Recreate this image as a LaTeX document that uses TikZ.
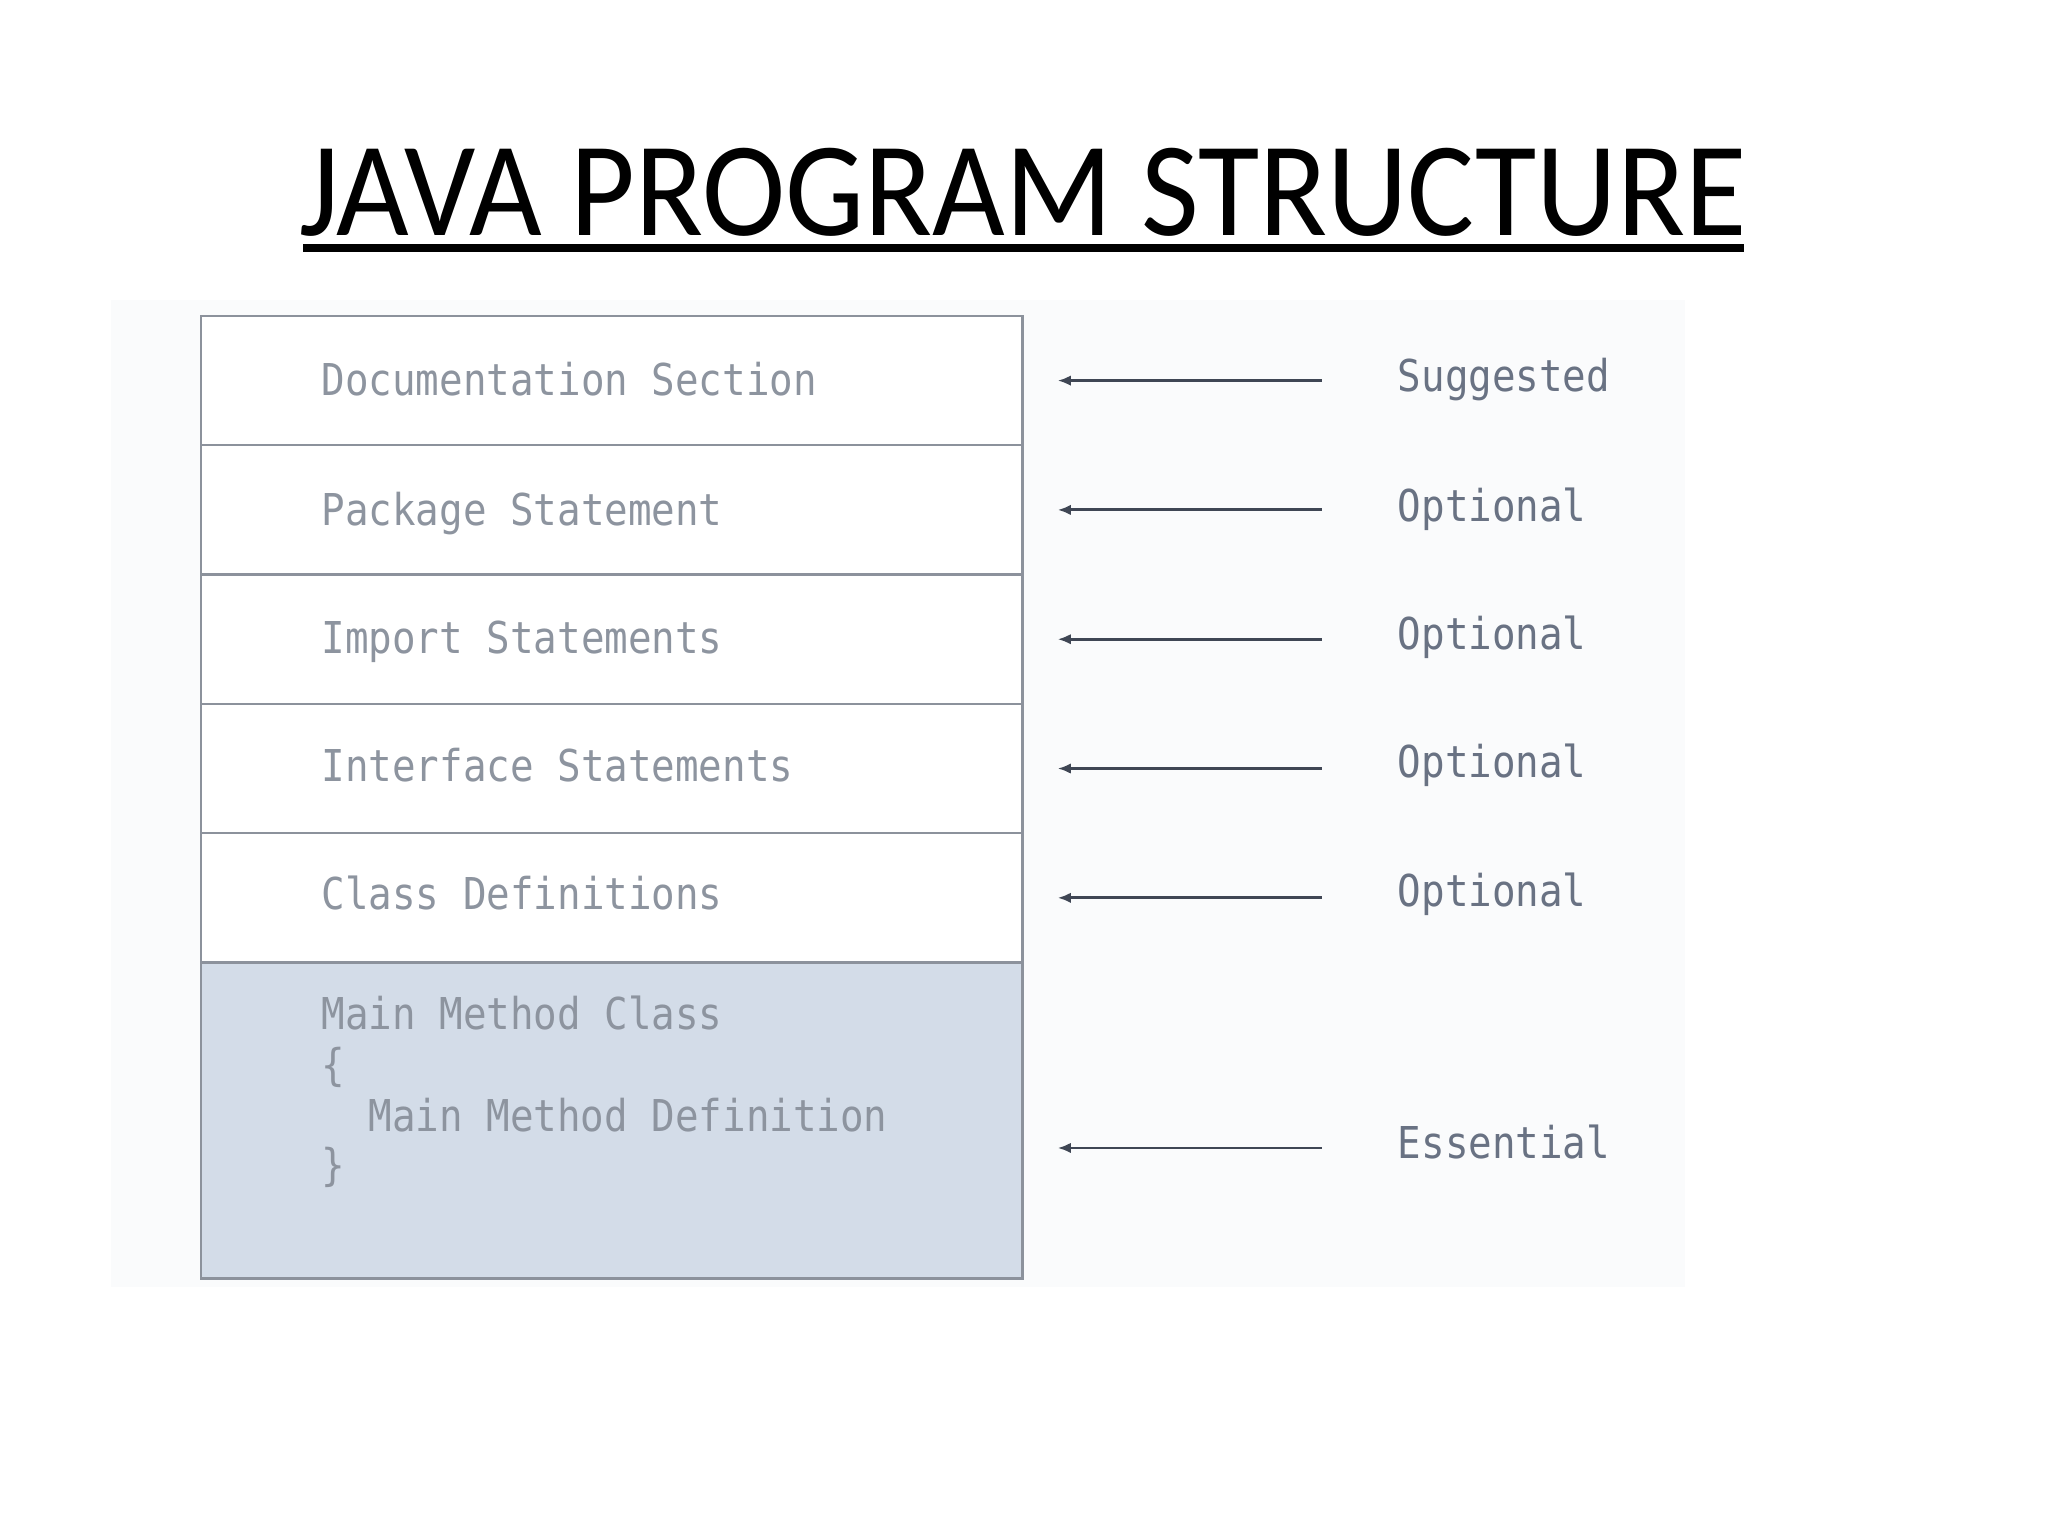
\documentclass[tikz,border=0pt]{standalone}
\usepackage{fontspec}
\setmainfont{Carlito}
\newfontfamily\monof{DejaVu Sans Mono}
\usetikzlibrary{arrows.meta}
\definecolor{boxline}{HTML}{8C929C}
\definecolor{mainfill}{HTML}{D3DCE8}
\definecolor{rowtext}{HTML}{8D949F}
\definecolor{labtext}{HTML}{697283}
\definecolor{arrcol}{HTML}{3F4654}
\definecolor{scanbg}{HTML}{FAFBFC}
\tikzset{
  rowbox/.style={draw=boxline, line width=1.8pt, minimum width=629pt, minimum height=99pt, inner sep=0pt, anchor=north west},
  rowtxt/.style={font=\monof\fontsize{30}{36}\selectfont, text=rowtext, inner sep=0pt, anchor=base west, yscale=1.12},
  labtxt/.style={font=\monof\fontsize{30}{36}\selectfont, text=labtext, inner sep=0pt, anchor=base west, yscale=1.12},
  arr/.style={draw=arrcol, line width=2.2pt, -{Latex[length=10pt,width=8pt]}},
}
\begin{document}
\begin{tikzpicture}[x=1pt,y=-1pt]
\useasboundingbox (0,0) rectangle (1568,1176);
\fill[white] (0,0) rectangle (1568,1176);
\fill[scanbg] (85,230) rectangle (1290,985);
% title
\node[font=\fontsize{103}{110}\selectfont, anchor=base, inner sep=0pt, xscale=0.933] (title) at (783,180) {JAVA PROGRAM STRUCTURE};
\fill[black] (232,187) rectangle (1335,193);
% boxes
\node[rowbox, fill=white] (b1) at (153,241) {};
\node[rowbox, fill=white] (b2) at (153,340) {};
\node[rowbox, fill=white] (b3) at (153,439) {};
\node[rowbox, fill=white] (b4) at (153,538) {};
\node[rowbox, fill=white] (b5) at (153,637) {};
\node[rowbox, fill=mainfill, minimum height=242pt] (b6) at (153,736) {};
% row texts
\node[rowtxt] (t1) at (246,303) {Documentation Section};
\node[rowtxt] (t2) at (246,402) {Package Statement};
\node[rowtxt] (t3) at (246,500) {Import Statements};
\node[rowtxt] (t4) at (246,598) {Interface Statements};
\node[rowtxt] (t5) at (246,696) {Class Definitions};
\node[rowtxt] (t6a) at (246,788) {Main Method Class};
\node[rowtxt] (t6b) at (246,827) {\{};
\node[rowtxt] (t6c) at (282,866) {Main Method Definition};
\node[rowtxt] (t6d) at (246,904) {\}};
% labels
\node[labtxt] (l1) at (1070,300) {Suggested};
\node[labtxt] (l2) at (1070,399) {Optional};
\node[labtxt] (l3) at (1070,497) {Optional};
\node[labtxt] (l4) at (1070,595) {Optional};
\node[labtxt] (l5) at (1070,694) {Optional};
\node[labtxt] (l6) at (1070,887) {Essential};
% arrows
\draw[arr] ([xshift=228pt]b1.east) -- ([xshift=26pt]b1.east);
\draw[arr] ([xshift=228pt]b2.east) -- ([xshift=26pt]b2.east);
\draw[arr] ([xshift=228pt]b3.east) -- ([xshift=26pt]b3.east);
\draw[arr] ([xshift=228pt]b4.east) -- ([xshift=26pt]b4.east);
\draw[arr] ([xshift=228pt]b5.east) -- ([xshift=26pt]b5.east);
\draw[arr] ([shift={(228pt,-21pt)}]b6.east) -- ([shift={(26pt,-21pt)}]b6.east);
\end{tikzpicture}
\end{document}
